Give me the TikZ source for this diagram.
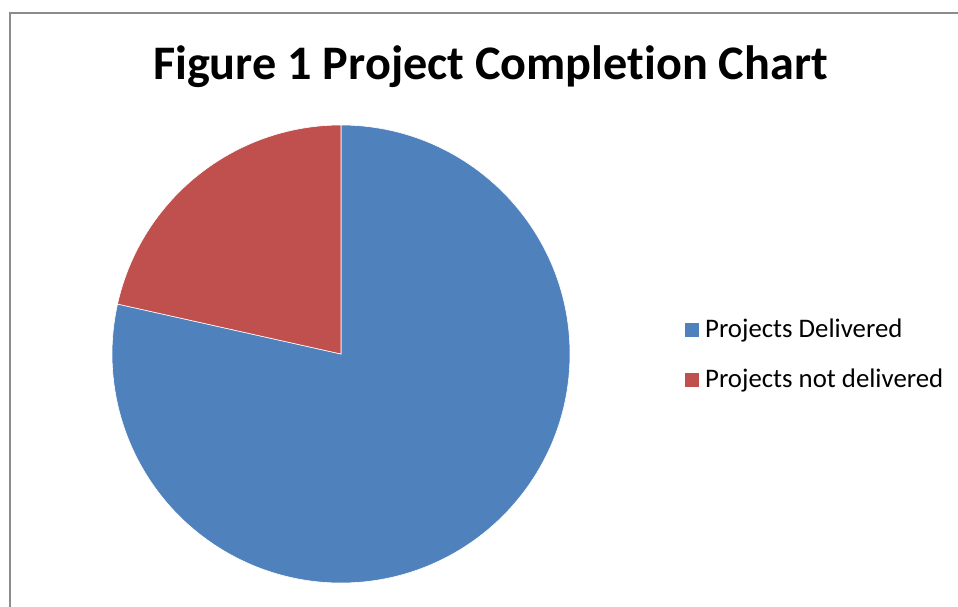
\documentclass[tikz,border=0pt]{standalone}
\usepackage{fontspec}
\setmainfont[Ligatures={NoCommon}]{Carlito}
\definecolor{pieblue}{HTML}{4F81BD}
\definecolor{piered}{HTML}{C0504D}
\definecolor{framegray}{HTML}{8C8C8C}
\begin{document}
\begin{tikzpicture}[x=1pt,y=-1pt,
  legtext/.style={anchor=west,inner sep=0pt,font=\fontsize{26.8}{30}\selectfont},
  legbox/.style={minimum size=14pt,inner sep=0pt}]
\useasboundingbox (0,0) rectangle (958,607);
\draw[framegray,line width=1.5pt] (10,610) -- (10,13) -- (960,13);
\node[font=\bfseries\fontsize{48.2}{55}\selectfont,anchor=base] (title) at (490.5,80) {Figure 1 Project Completion Chart};
\coordinate (c) at (341,354);
\fill[pieblue,draw=white,line width=0.6pt] (c) -- ++(90:-229) arc[start angle=-90,end angle=192.6,radius=229] -- cycle;
\fill[piered,draw=white,line width=0.6pt] (c) -- ++(192.6:229) arc[start angle=192.6,end angle=270,radius=229] -- cycle;
\node[legbox,fill=pieblue] (b1) at (692,330) {};
\node[legtext] (t1) at (705,330) {Projects Delivered};
\node[legbox,fill=piered] (b2) at (692,380) {};
\node[legtext] (t2) at (705,380) {Projects not delivered};
\end{tikzpicture}
\end{document}
